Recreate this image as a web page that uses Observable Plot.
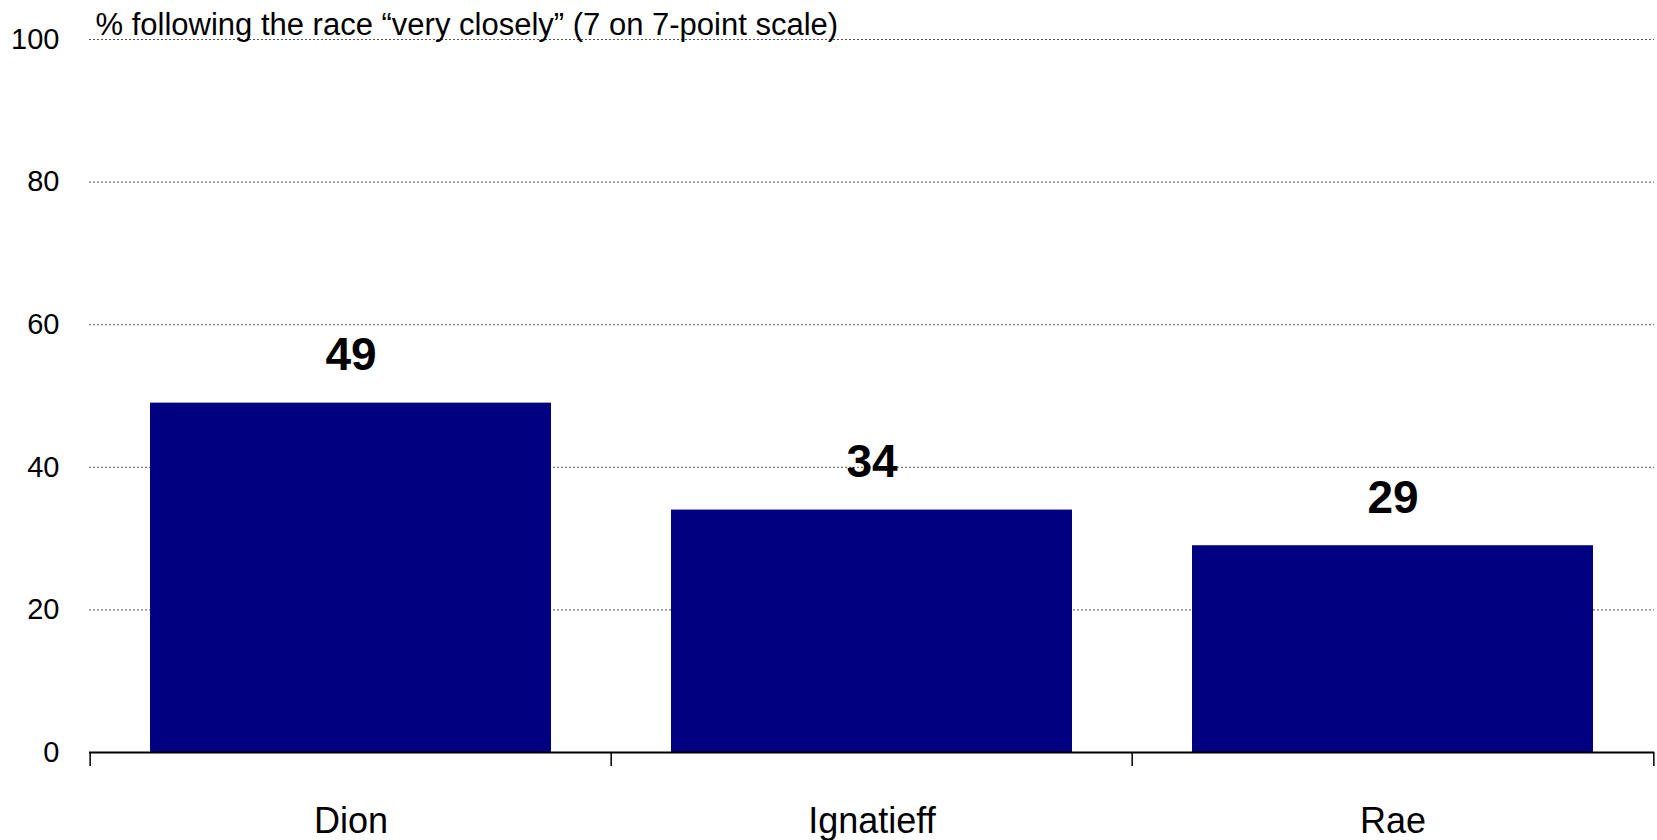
<!DOCTYPE html>
<html>
<head>
<meta charset="utf-8">
<script src="https://cdn.jsdelivr.net/npm/d3@7"></script>
<script src="https://cdn.jsdelivr.net/npm/@observablehq/plot@0.6"></script>
<style>
  html, body { margin: 0; padding: 0; background: #fff; }
  svg text { font-family: "Liberation Sans", Arial, sans-serif; }
</style>
</head>
<body>
<div id="chart"></div>
<script>
const candidates = ["Dion", "Ignatieff", "Rae"];
const pctVeryClosely = [49, 34, 29];
const yTicks = [0, 20, 40, 60, 80, 100];
const gridTicks = [20, 40, 60, 80, 100];
const title = "% following the race \u201cvery closely\u201d (7 on 7-point scale)";

const data = candidates.map((c, i) => ({candidate: c, value: pctVeryClosely[i]}));

const W = 1657, H = 840;
const mL = 89, mR = 3, mT = 39, mB = 88;
const step = (W - mL - mR) / candidates.length;

const chart = Plot.plot({
  width: W,
  height: H,
  marginLeft: mL,
  marginRight: mR,
  marginTop: mT,
  marginBottom: mB,
  style: {fontFamily: "Liberation Sans, Arial, sans-serif", color: "#000", background: "#fff"},
  x: {domain: candidates, paddingInner: 0.23, paddingOuter: 0.115, label: null},
  y: {domain: [0, 100], label: null},
  marks: [
    Plot.ruleY(gridTicks, {stroke: "#555", strokeWidth: 1, strokeDasharray: "2,2"}),
    Plot.barY(data, {x: "candidate", y: "value", fill: "#000080"}),
    Plot.text(data, {x: "candidate", y: "value", text: d => String(d.value), fontSize: 46, fontWeight: "bold", fill: "#000", lineAnchor: "bottom", dy: -33}),
    Plot.ruleY([0], {stroke: "#000", strokeWidth: 2}),
    Plot.ruleX(candidates, {x: d => d, dx: -step / 2, stroke: "#000", strokeWidth: 1.5, insetTop: H - mT - mB, insetBottom: -14}),
    Plot.ruleX([candidates[candidates.length - 1]], {x: d => d, dx: step / 2, stroke: "#000", strokeWidth: 1.5, insetTop: H - mT - mB, insetBottom: -14}),
    Plot.axisY(yTicks, {tickSize: 0, tickPadding: 30, fontSize: 29, fill: "#000"}),
    Plot.axisX({tickSize: 0, tickPadding: 55, fontSize: 36, fill: "#000"}),
    Plot.text([title], {frameAnchor: "top-left", dx: 6, dy: -5, lineAnchor: "bottom", fontSize: 31, fill: "#000"})
  ]
});
document.getElementById("chart").appendChild(chart);
</script>
</body>
</html>
